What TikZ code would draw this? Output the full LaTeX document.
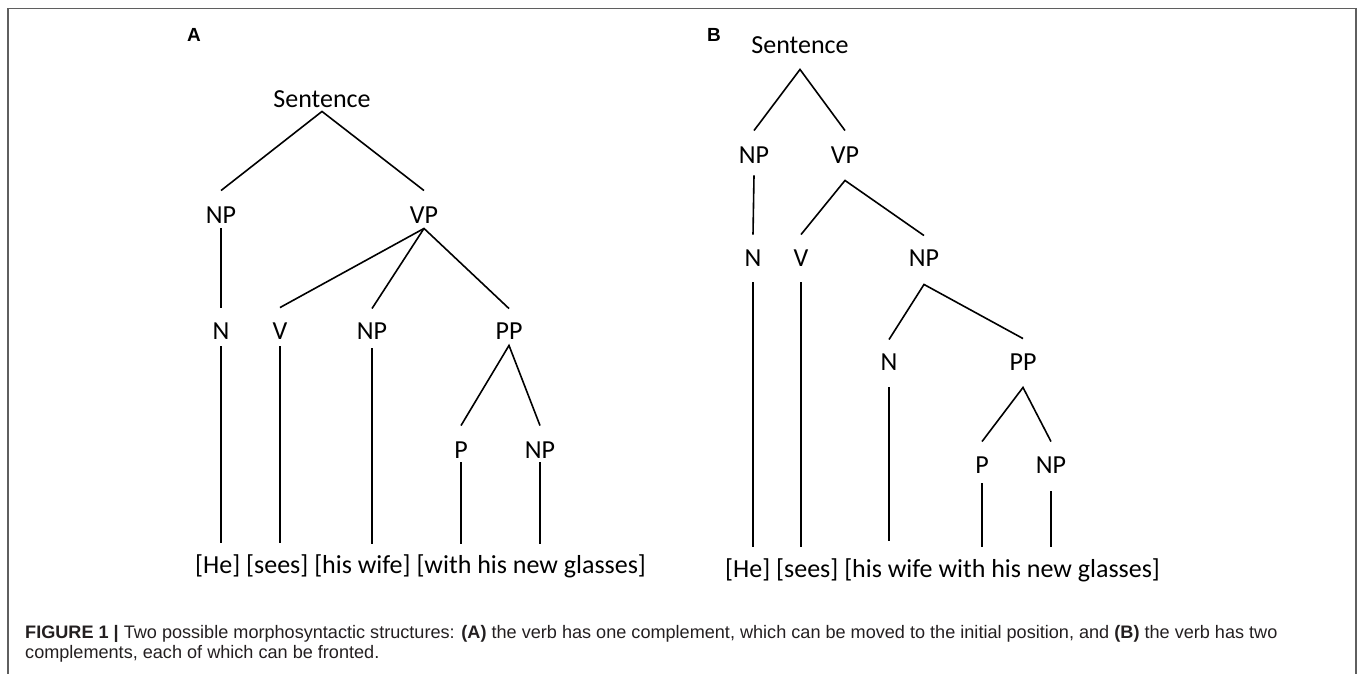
\documentclass[tikz,border=0pt]{standalone}
\usepackage{fontspec}
\setmainfont{Liberation Sans}
\newfontfamily\treefont{Carlito}
\definecolor{framegray}{RGB}{95,95,95}
\definecolor{captxt}{RGB}{35,31,32}
\begin{document}
\begin{tikzpicture}[x=1pt,y=-1pt,
  lbl/.style={inner sep=0pt,text height=16.5pt,text depth=0pt,font={\treefont\fontsize{26}{30}\selectfont}},
  treeline/.style={line width=1.6pt,black},
  panellabel/.style={inner sep=0pt,font={\bfseries\fontsize{19}{22}\selectfont}},
  captext/.style={inner sep=0pt,text=captxt,font={\fontsize{18.1}{21}\selectfont}},
  framestyle/.style={line width=1.6pt,framegray}]
\useasboundingbox (0,0) rectangle (1360,674);
% frame
\coordinate (fbl) at (8,674);
\coordinate (ftl) at (8,8.5);
\coordinate (ftr) at (1356,8.5);
\coordinate (fbr) at (1356,674);
\draw[framestyle] (fbl) -- (ftl) -- (ftr) -- (fbr);
% panel labels
\node[panellabel] (labA) at (194,35) {A};
\node[panellabel] (labB) at (714,35) {B};
% ---------------- tree A
\node[lbl] (sA) at (322,99) {Sentence};
\node[lbl] (npA) at (221,215) {NP};
\node[lbl] (vpA) at (424,215) {VP};
\node[lbl] (nA) at (221,331) {N};
\node[lbl] (vA) at (280,331) {V};
\node[lbl] (np2A) at (372,331) {NP};
\node[lbl] (ppA) at (509,331) {PP};
\node[lbl] (pA) at (461,450) {P};
\node[lbl] (np3A) at (540,450) {NP};
\node[lbl,anchor=base west] (wA) at (195,573) {[He] [sees] [his wife] [with his new glasses]};
\draw[treeline] ([yshift=16pt]npA.north) -- ([yshift=-4pt]sA.south) -- ([yshift=16pt]vpA.north);
\draw[treeline] ([yshift=-5pt]npA.south) -- ([yshift=15pt]nA.north);
\draw[treeline] ([yshift=15pt]vA.north) -- ([yshift=-5pt]vpA.south) -- ([yshift=14pt]ppA.north);
\draw[treeline] ([yshift=-5pt]vpA.south) -- ([yshift=14pt]np2A.north);
\draw[treeline] ([yshift=-7pt]nA.south) -- ([yshift=13pt]nA |- wA.north);
\draw[treeline] ([yshift=-7pt]vA.south) -- ([yshift=13pt]vA |- wA.north);
\draw[treeline] ([yshift=-9pt]np2A.south) -- ([yshift=12pt]np2A |- wA.north);
\draw[treeline] ([yshift=16pt]pA.north) -- ([yshift=-6pt]ppA.south) -- ([yshift=16pt]np3A.north);
\draw[treeline] ([yshift=-4pt]pA.south) -- ([yshift=12pt]pA |- wA.north);
\draw[treeline] ([yshift=-4pt]np3A.south) -- ([yshift=12pt]np3A |- wA.north);
% ---------------- tree B
\node[lbl] (sB) at (800,45) {Sentence};
\node[lbl] (npB) at (754,155) {NP};
\node[lbl] (vpB) at (845,155) {VP};
\node[lbl] (nB) at (753,258) {N};
\node[lbl] (vB) at (801,258) {V};
\node[lbl] (np2B) at (924,258) {NP};
\node[lbl] (n3B) at (889,362) {N};
\node[lbl] (ppB) at (1023,362) {PP};
\node[lbl] (pB) at (982,465) {P};
\node[lbl] (np4B) at (1051,465) {NP};
\node[lbl,anchor=base west] (wB) at (725,577) {[He] [sees] [his wife with his new glasses]};
\draw[treeline] ([yshift=16pt]npB.north) -- ([yshift=-16pt]sB.south) -- ([yshift=16pt]vpB.north);
\draw[treeline] ([yshift=-12pt]npB.south) -- ([yshift=15pt]nB.north);
\draw[treeline] ([yshift=15pt]vB.north) -- ([yshift=-17pt]vpB.south) -- ([yshift=14pt]np2B.north);
\draw[treeline] ([yshift=-16pt]nB.south) -- ([yshift=13pt]nB |- wB.north);
\draw[treeline] ([yshift=-16pt]vB.south) -- ([yshift=13pt]vB |- wB.north);
\draw[treeline] ([yshift=14pt]n3B.north) -- ([yshift=-18pt]np2B.south) -- ([yshift=15pt]ppB.north);
\draw[treeline] ([yshift=-17pt]n3B.south) -- ([yshift=19pt]n3B |- wB.north);
\draw[treeline] ([yshift=15pt]pB.north) -- ([yshift=-17pt]ppB.south) -- ([yshift=15pt]np4B.north);
\draw[treeline] ([yshift=-10pt]pB.south) -- ([yshift=13pt]pB |- wB.north);
\draw[treeline] ([yshift=-18pt]np4B.south) -- ([yshift=13pt]np4B |- wB.north);
% ---------------- caption
\node[captext,anchor=base west] (cap1) at (25,638) {\textbf{FIGURE 1 |} Two possible morphosyntactic structures: \textbf{(A)} the verb has one complement, which can be moved to the initial position, and \textbf{(B)} the verb has two};
\node[captext,anchor=base west] (cap2) at (25,658) {complements, each of which can be fronted.};
\end{tikzpicture}
\end{document}
